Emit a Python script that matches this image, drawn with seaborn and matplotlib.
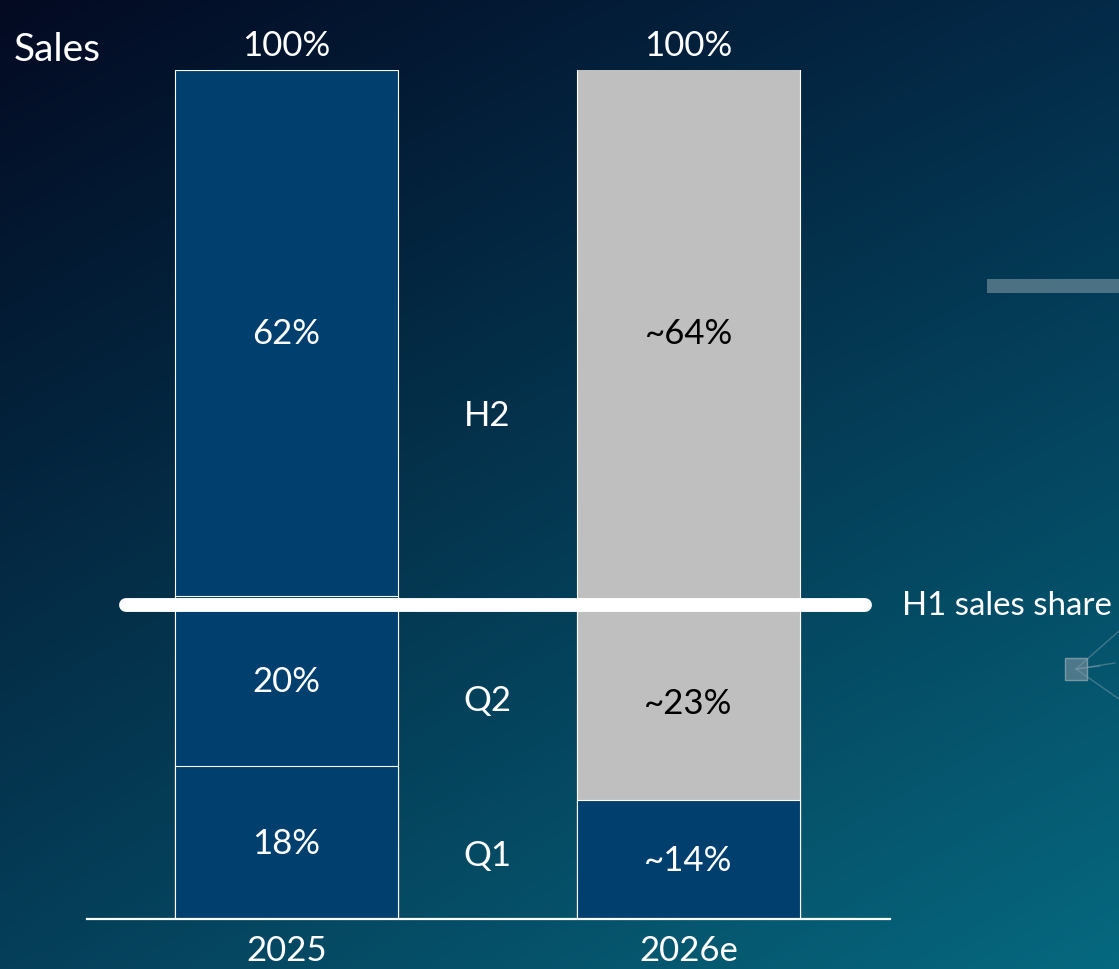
import numpy as np
import pandas as pd
import matplotlib
matplotlib.use("Agg")
import matplotlib.pyplot as plt
import seaborn as sns
from matplotlib.patches import Rectangle
from matplotlib.lines import Line2D

# ---- data -------------------------------------------------------------
years = ["2025", "2026e"]
q1 = [18, 14]
q2 = [20, 23]
h2 = [62, 64]
q1_labels = ["18%", "~14%"]
q2_labels = ["20%", "~23%"]
h2_labels = ["62%", "~64%"]
total_labels = ["100%", "100%"]
h1_share = 37
segment_names = ["H2", "Q2", "Q1"]

NAVY = "#003f6e"
GRAY = "#bfbfbf"
q1_colors = [NAVY, NAVY]
q2_colors = [NAVY, GRAY]
h2_colors = [NAVY, GRAY]

# ---- style ------------------------------------------------------------
sns.set_theme(style="white")
plt.rcParams["font.family"] = ["Lato", "DejaVu Sans"]
FS = 25

W, H = 1119, 970
fig = plt.figure(figsize=(W / 100, H / 100), dpi=100)

# gradient backdrop (dark navy top-left -> teal bottom-right)
bg = fig.add_axes([0, 0, 1, 1], zorder=-10)
tl = np.array([3, 10, 34]) / 255
tr = np.array([3, 42, 72]) / 255
bl = np.array([5, 63, 90]) / 255
br = np.array([6, 105, 127]) / 255
u = np.linspace(0, 1, 400)[None, :, None]
v = np.linspace(0, 1, 350)[:, None, None]
top = tl + (tr - tl) * u
bot = bl + (br - bl) * u
img = top + (bot - top) * v
bg.imshow(img, aspect="auto", extent=[0, 1, 0, 1], origin="upper")
bg.set_axis_off()

# faint decorative elements on the right edge
fig.add_artist(Rectangle((987 / W, 1 - 294 / H), (W - 987) / W, 14 / H,
                         transform=fig.transFigure, color="#6a8a98", alpha=0.7, lw=0))
cx, cy = 1076 / W, 1 - 670 / H
for ex, ey in [(1119, 632), (1119, 700), (1115, 664), (1100, 667)]:
    fig.add_artist(Line2D([cx, ex / W], [cy, 1 - ey / H], transform=fig.transFigure,
                          color="#7d9cab", lw=1, alpha=0.5))
fig.add_artist(Rectangle((cx - 11 / W, cy - 11 / H), 22 / W, 22 / H,
                         transform=fig.transFigure, facecolor="#5f8292",
                         edgecolor="#8aa5b2", lw=1, alpha=0.8))

# ---- chart ------------------------------------------------------------
ax = fig.add_axes([87 / W, 50 / H, (890 - 87) / W, 849 / H])
ax.set_facecolor("none")

df = pd.DataFrame({"year": years, "q1": q1, "q2": q2, "h2": h2})
df["to_q2"] = df["q1"] + df["q2"]
df["to_h2"] = df["to_q2"] + df["h2"]

# stacked bars drawn as cumulative layers, back to front
bw = 0.555
edge = dict(edgecolor="white", linewidth=0.8, saturation=1, width=bw,
            legend=False, ax=ax)
for col, pal in [("to_h2", h2_colors), ("to_q2", q2_colors), ("q1", q1_colors)]:
    sns.barplot(data=df, x="year", y=col, hue="year", palette=pal, **edge)

# segment value labels
for i in range(len(years)):
    segs = [(q1[i], 0, q1_labels[i], q1_colors[i]),
            (q2[i], q1[i], q2_labels[i], q2_colors[i]),
            (h2[i], q1[i] + q2[i], h2_labels[i], h2_colors[i])]
    for val, base, lab, col in segs:
        tc = "black" if col == GRAY else "white"
        ax.text(i, base + val / 2, lab, ha="center", va="center",
                fontsize=FS, color=tc)
    total = q1[i] + q2[i] + h2[i]
    ax.annotate(total_labels[i], (i, min(total, 100)), xytext=(0, 18),
                textcoords="offset points", ha="center", va="center",
                fontsize=FS, color="white", annotation_clip=False)

# H1 sales share marker
ax.plot([-0.40, 1.44], [h1_share, h1_share], color="white", lw=10,
        solid_capstyle="round", clip_on=False, zorder=5)
ax.text(1.015, h1_share, "H1 sales share", transform=ax.get_yaxis_transform(),
        ha="left", va="center", fontsize=FS - 1.2, color="white", clip_on=False)

# period labels between the bars
for name, yv in zip(segment_names, [59.4, 25.8, 7.5]):
    ax.text(0.5, yv, name, ha="center", va="center", fontsize=FS, color="white")

ax.set_xlim(-0.496, 1.501)
ax.set_ylim(0, 100)
ax.set_xlabel("")
ax.set_ylabel("")
ax.set_yticks([])
ax.tick_params(axis="x", length=0, pad=11, labelsize=FS, labelcolor="white")
for s in ["top", "left", "right"]:
    ax.spines[s].set_visible(False)
ax.spines["bottom"].set_color("white")
ax.spines["bottom"].set_linewidth(1.6)

fig.text(57 / W, 1 - 50 / H, "Sales", ha="center", va="center",
         fontsize=FS + 3, color="white")

fig.savefig("out.png", dpi=100)
